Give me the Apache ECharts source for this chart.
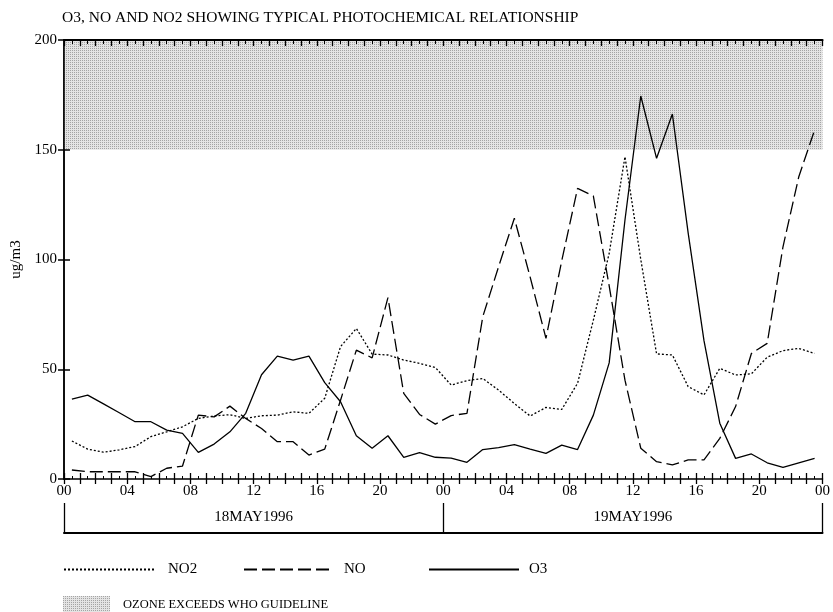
<!DOCTYPE html>
<html>
<head>
<meta charset="utf-8">
<script src="https://cdn.jsdelivr.net/npm/echarts@6/dist/echarts.min.js"></script>
<style>
  html, body { margin: 0; padding: 0; background: #fff; }
  #chart { width: 833px; height: 612px; }
</style>
</head>
<body>
<div id="chart"></div>
<script>
// Hourly mean concentrations (ug/m3), 18-19 May 1996, plotted at the half hour
const no2 = [17.3, 13.6, 12.2, 13.3, 14.8, 19.3, 21.5, 23.8, 27.6, 28.7, 29.3, 27.6,
             28.8, 29.1, 30.6, 29.9, 36.8, 60.3, 68.6, 56.9, 56.5, 54.2, 52.7, 50.8,
             42.8, 44.8, 45.8, 40.5, 34.4, 28.7, 32.6, 31.7, 43.6, 72.4, 102.8, 146.8,
             100.0, 57.0, 56.5, 42.1, 38.3, 50.4, 47.4, 47.9, 55.5, 58.5, 59.5, 57.2];
const no  = [4.1, 3.3, 3.3, 3.3, 3.3, 1.1, 4.9, 5.9, 29.1, 28.3, 33.2, 27.6,
             23.0, 17.0, 17.0, 10.9, 13.6, 35.9, 58.7, 55.2, 82.6, 39.0, 29.4, 25.0,
             28.9, 29.9, 73.9, 96.7, 118.8, 92.0, 64.1, 99.5, 132.4, 128.9, 88.0, 45.0,
             14.0, 7.9, 6.4, 8.7, 8.7, 18.5, 33.0, 57.2, 61.8, 105.8, 137.7, 159.0];
const o3  = [36.4, 38.2, 34.2, 30.2, 26.1, 26.1, 22.3, 20.8, 12.1, 15.9, 21.5, 29.9,
             47.5, 56.0, 54.2, 56.0, 43.9, 35.2, 19.7, 14.0, 19.7, 9.9, 12.0, 9.9,
             9.5, 7.6, 13.4, 14.3, 15.7, 13.6, 11.7, 15.4, 13.4, 29.1, 52.9, 118.0,
             174.5, 146.1, 166.3, 112.0, 63.0, 25.4, 9.4, 11.4, 7.4, 5.3, 7.4, 9.4];
const dayLabels = ['18MAY1996', '19MAY1996'];
const whoGuideline = 150;   // ozone guideline, ug/m3
const yMax = 200;
const hoursShown = 48;

// sample times in hours from 00:00 on the first day
const sampleHours = o3.map((_, i) => i + 0.5);
const pairs = vals => vals.map((v, i) => [sampleHours[i], v]);

const serif = "'Liberation Serif', 'DejaVu Serif', serif";

// fine grey stipple for the guideline band
function stipple() {
  const c = document.createElement('canvas');
  c.width = 2; c.height = 2;
  const g = c.getContext('2d');
  g.fillStyle = '#e4e4e4'; g.fillRect(0, 0, 2, 2);
  g.fillStyle = '#a4a4a4'; g.fillRect(0, 0, 1, 1);
  return { image: c, repeat: 'repeat' };
}
const bandFill = stipple();

const hh = v => String(Math.round(v) % 24).padStart(2, '0');
const axisLine = w => ({ show: true, lineStyle: { color: '#000', width: w } });
const noMarker = { color: 'transparent', borderWidth: 0, opacity: 0 };
const legendText = (size, gap) => ({ fontFamily: serif, fontSize: size, color: '#000', padding: [0, 0, 0, gap] });

const chart = echarts.init(document.getElementById('chart'), null, { renderer: 'canvas' });

chart.setOption({
  animation: false,
  backgroundColor: '#fff',
  title: {
    text: 'O3, NO AND NO2 SHOWING TYPICAL PHOTOCHEMICAL RELATIONSHIP',
    left: 57, top: 5,
    textStyle: { fontFamily: serif, fontSize: 15.5, fontWeight: 'normal', color: '#000' }
  },
  grid: { left: 64, top: 40, right: 5, bottom: 133, containLabel: false },
  legend: [
    { data: ['NO2'], left: 58, top: 557, itemWidth: 92, itemHeight: 12, selectedMode: false,
      itemStyle: noMarker, textStyle: legendText(15, 7) },
    { data: ['NO'], left: 238, top: 557, itemWidth: 90, itemHeight: 12, selectedMode: false,
      itemStyle: noMarker, textStyle: legendText(15, 5) },
    { data: ['O3'], left: 423, top: 557, itemWidth: 90, itemHeight: 12, selectedMode: false,
      itemStyle: noMarker, textStyle: legendText(15, 5) },
    { data: [{ name: 'OZONE EXCEEDS WHO GUIDELINE', icon: 'rect', itemStyle: { color: bandFill, borderWidth: 0 } }],
      left: 58, top: 591, itemWidth: 47, itemHeight: 18, selectedMode: false,
      textStyle: legendText(12.5, 8) }
  ],
  xAxis: [
    { // hour labels with outward hourly ticks
      type: 'value', min: 0, max: hoursShown, interval: 4, position: 'bottom', z: 5,
      axisLine: axisLine(1.5),
      axisTick: { show: true, inside: false, length: 5, lineStyle: { color: '#000', width: 1.3 } },
      minorTick: { show: true, splitNumber: 4, length: 5, lineStyle: { color: '#000', width: 1.3 } },
      axisLabel: { formatter: hh, margin: 5, color: '#000', fontFamily: serif, fontSize: 15,
                   showMinLabel: true, showMaxLabel: true },
      splitLine: { show: false }
    },
    { // inward hourly and half-hourly ticks on the bottom edge
      type: 'value', min: 0, max: hoursShown, interval: 1, position: 'bottom', z: 5,
      axisLine: { show: false },
      axisTick: { show: true, inside: true, length: 6, lineStyle: { color: '#000', width: 1.3 } },
      minorTick: { show: true, splitNumber: 2, length: 3, lineStyle: { color: '#000', width: 1 } },
      axisLabel: { show: false }, splitLine: { show: false }
    },
    { // top frame with hanging ticks
      type: 'value', min: 0, max: hoursShown, interval: 1, position: 'top', z: 5,
      axisLine: axisLine(2.2),
      axisTick: { show: true, inside: true, length: 6, lineStyle: { color: '#000', width: 1.3 } },
      minorTick: { show: true, splitNumber: 2, length: 4, lineStyle: { color: '#000', width: 1 } },
      axisLabel: { show: false }, splitLine: { show: false }
    },
    { // day boxes under the hour labels
      type: 'category', data: dayLabels, position: 'bottom', offset: 54, boundaryGap: true, z: 5,
      axisLine: axisLine(2),
      axisTick: { show: true, inside: true, length: 30, interval: 0, lineStyle: { color: '#000', width: 1.3 } },
      axisLabel: { inside: true, margin: 8, interval: 0, color: '#000', fontFamily: serif, fontSize: 15 },
      splitLine: { show: false }
    }
  ],
  yAxis: [
    {
      type: 'value', min: 0, max: yMax, interval: 50, position: 'left', z: 5,
      name: 'ug/m3', nameLocation: 'middle', nameGap: 40,
      nameTextStyle: { fontFamily: serif, fontSize: 15, color: '#000' },
      axisLine: axisLine(1.5),
      axisTick: { show: true, inside: true, length: 6, lineStyle: { color: '#000', width: 1.5 } },
      axisLabel: { margin: 7, color: '#000', fontFamily: serif, fontSize: 15 },
      splitLine: { show: false }
    },
    {
      type: 'value', min: 0, max: yMax, interval: 50, position: 'right', z: 0,
      axisLine: axisLine(1.5),
      axisTick: { show: true, inside: true, length: 6, lineStyle: { color: '#000', width: 1.5 } },
      axisLabel: { show: false }, splitLine: { show: false }
    }
  ],
  series: [
    { // ozone guideline exceedance band
      name: 'OZONE EXCEEDS WHO GUIDELINE', type: 'line', symbol: 'none', silent: true, z: 1,
      data: [[0, whoGuideline]],
      lineStyle: { width: 0, opacity: 0 },
      itemStyle: { color: '#d0d0d0' },
      markArea: {
        silent: true,
        itemStyle: { color: bandFill, opacity: 1, borderWidth: 0 },
        data: [[{ yAxis: whoGuideline }, { yAxis: yMax }]]
      }
    },
    {
      name: 'NO2', type: 'line', symbol: 'none', z: 3, data: pairs(no2),
      itemStyle: { color: '#000' },
      lineStyle: { color: '#000', width: 1.3, type: [2, 2] }
    },
    {
      name: 'NO', type: 'line', symbol: 'none', z: 3, data: pairs(no),
      itemStyle: { color: '#000' },
      lineStyle: { color: '#000', width: 1.3, type: [13, 5] }
    },
    {
      name: 'O3', type: 'line', symbol: 'none', z: 3, data: pairs(o3),
      itemStyle: { color: '#000' },
      lineStyle: { color: '#000', width: 1.3, type: 'solid' }
    }
  ]
});
</script>
</body>
</html>
